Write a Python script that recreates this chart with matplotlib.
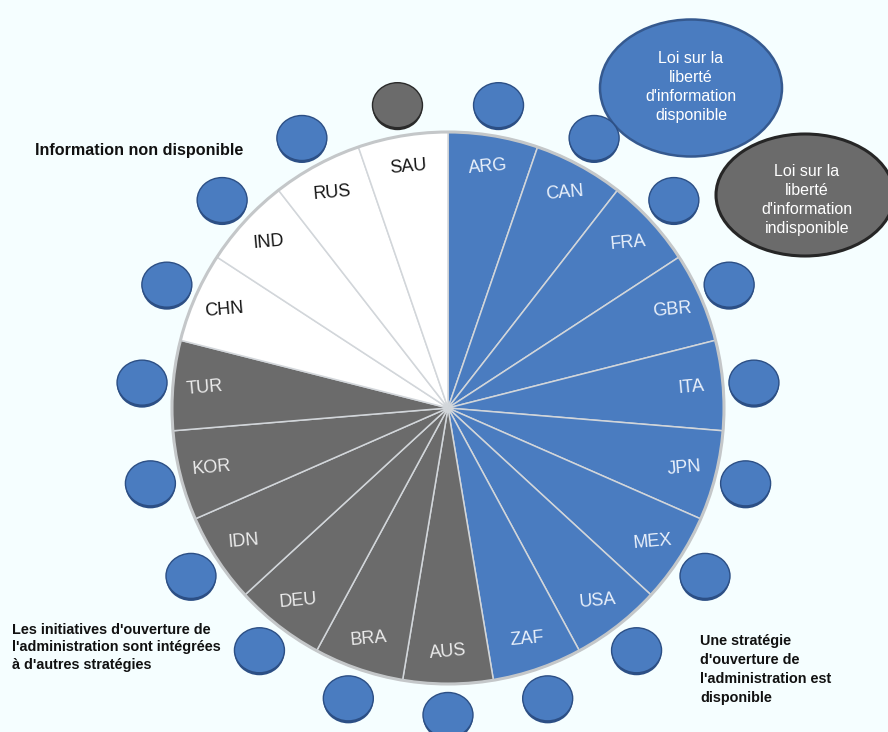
import numpy as np
import matplotlib
matplotlib.use("Agg")
import matplotlib.pyplot as plt
from matplotlib.patches import Ellipse, Circle

# Countries in clockwise order starting from 12 o'clock
countries = ["ARG", "CAN", "FRA", "GBR", "ITA", "JPN", "MEX", "USA", "ZAF",
             "AUS", "BRA", "DEU", "IDN", "KOR", "TUR",
             "CHN", "IND", "RUS", "SAU"]
# Open-government strategy status: "own" = dedicated strategy, "integrated" = part of other strategies, "na" = no information
strategy = ["own"] * 9 + ["integrated"] * 6 + ["na"] * 4
# Freedom of information law available (True) or not (False)
foi_law = [True] * 18 + [False]

BG = "#f5feff"
BLUE = "#4a7cc0"
GREY = "#6b6b6b"
WHITE = "#ffffff"
fill = {"own": BLUE, "integrated": GREY, "na": WHITE}
label_col = {"own": "#eaf1fb", "integrated": "#ececec", "na": "#151515"}

SANS = ["Liberation Sans", "DejaVu Sans"]

W, H = 888, 732
fig = plt.figure(figsize=(W / 100, H / 100), dpi=100, facecolor=BG)
ax = fig.add_axes([0, 0, 1, 1])

cx, cy, R = 448, 324, 276

wedges, _ = ax.pie([1] * len(countries), colors=[fill[s] for s in strategy],
                   startangle=90, counterclock=False, center=(cx, cy), radius=R,
                   wedgeprops=dict(edgecolor="#d2d6da", linewidth=1.1), frame=True)
ax.set_xlim(0, W)
ax.set_ylim(0, H)
ax.set_aspect("equal")
ax.axis("off")
ax.add_patch(Circle((cx, cy), R, fill=False, edgecolor="#c4c7c9", linewidth=2.2, zorder=3))

for w, name, s, law in zip(wedges, countries, strategy, foi_law):
    mid = np.deg2rad((w.theta1 + w.theta2) / 2)
    lx, ly = cx + 0.885 * R * np.cos(mid), cy + 0.885 * R * np.sin(mid)
    ax.text(lx, ly, name, ha="center", va="center", rotation=5,
            fontsize=13, color=label_col[s], family=SANS, zorder=4)
    # marker bubble outside the pie for the FOI law status
    bx, by = cx + 307 * np.cos(mid), cy + 307 * np.sin(mid)
    face = BLUE if law else GREY
    edge = "#2c4f85" if law else "#2a2a2a"
    ax.add_patch(Ellipse((bx, by - 2), 50, 46, facecolor=edge, edgecolor="none", zorder=5))
    ax.add_patch(Ellipse((bx, by), 50, 45, facecolor=face, edgecolor=edge,
                         linewidth=1.0, zorder=6))

# Legend bubbles
ax.add_patch(Ellipse((691, H - 88), 182, 137, facecolor=BLUE, edgecolor="#35598f",
                     linewidth=1.8, zorder=4))
ax.text(691, H - 87, "Loi sur la\nliberté\nd'information\ndisponible", ha="center",
        va="center", fontsize=11.5, color="white", family=SANS, linespacing=1.35, zorder=5)
ax.add_patch(Ellipse((805, H - 195), 178, 122, facecolor=GREY, edgecolor="#262626",
                     linewidth=2.2, zorder=4))
ax.text(807, H - 200, "Loi sur la\nliberté\nd'information\nindisponible", ha="center",
        va="center", fontsize=11.5, color="white", family=SANS, linespacing=1.35, zorder=5)

# Group captions
ax.text(35, H - 150, "Information non disponible", ha="left", va="center",
        fontsize=11.6, fontweight="bold", color="#111111", family=SANS)
ax.text(12, H - 623, "Les initiatives d'ouverture de\nl'administration sont intégrées\nà d'autres stratégies",
        ha="left", va="top", fontsize=10.4, fontweight="bold", color="#111111",
        family=SANS, linespacing=1.3)
ax.text(700, H - 634, "Une stratégie\nd'ouverture de\nl'administration est\ndisponible",
        ha="left", va="top", fontsize=10.4, fontweight="bold", color="#111111",
        family=SANS, linespacing=1.45)

fig.savefig("out.png", dpi=100, facecolor=BG)
